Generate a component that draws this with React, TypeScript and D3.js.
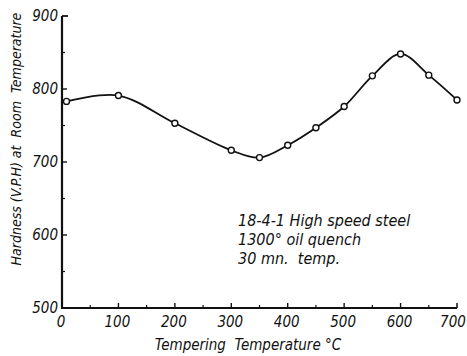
import * as d3 from "d3";

const temps = [8, 100, 200, 300, 350, 400, 450, 500, 550, 600, 650, 700];
const hardness = [783, 791, 753, 716, 706, 723, 747, 776, 818, 848, 819, 785];
const xTickValues = [0, 100, 200, 300, 400, 500, 600, 700];
const yTickValues = [500, 600, 700, 800, 900];
const noteLines = ["18-4-1 High speed steel", "1300° oil quench", "30 mn.  temp."];

const W = 467;
const H = 356;
const FONT = "'Liberation Sans Narrow', 'DejaVu Sans Condensed', sans-serif";

export default function App() {
  const x = d3.scaleLinear().domain([0, 700]).range([62, 457]);
  const y = d3.scaleLinear().domain([500, 900]).range([308, 16]);

  const pts = temps.map((t, i) => [t, hardness[i]] as [number, number]);
  const line = d3
    .line<[number, number]>()
    .x((d) => x(d[0]))
    .y((d) => y(d[1]))
    .curve(d3.curveCatmullRom.alpha(0.5));

  const xMinor = d3.range(50, 700, 100);
  const yMinor = d3.range(550, 900, 100);

  return (
    <svg
      width={W}
      height={H}
      viewBox={`0 0 ${W} ${H}`}
      style={{ position: "absolute", left: 0, top: 0, background: "#fff" }}
    >
      {/* axes */}
      <line x1={x(0)} y1={y(900)} x2={x(0)} y2={y(500) + 1} stroke="#111" strokeWidth={2.2} />
      <line x1={x(0) - 1} y1={y(500)} x2={x(700)} y2={y(500)} stroke="#111" strokeWidth={2} />
      <line x1={x(0)} y1={y(900)} x2={x(0) + 6} y2={y(900)} stroke="#111" strokeWidth={1.8} />
      <line x1={x(700)} y1={y(500)} x2={x(700)} y2={y(500) - 5} stroke="#111" strokeWidth={1.5} />

      {yTickValues.slice(1, -1).map((t) => (
        <line key={t} x1={x(0)} y1={y(t)} x2={x(0) + 5} y2={y(t)} stroke="#111" strokeWidth={1.4} />
      ))}
      {yMinor.map((t) => (
        <line key={t} x1={x(0)} y1={y(t)} x2={x(0) + 3} y2={y(t)} stroke="#111" strokeWidth={1.2} />
      ))}
      {xTickValues.slice(1, -1).map((t) => (
        <line key={t} x1={x(t)} y1={y(500)} x2={x(t)} y2={y(500) - 5} stroke="#111" strokeWidth={1.4} />
      ))}
      {xMinor.map((t) => (
        <line key={t} x1={x(t)} y1={y(500)} x2={x(t)} y2={y(500) - 3} stroke="#111" strokeWidth={1.2} />
      ))}

      {/* tick labels */}
      {yTickValues.map((t) => (
        <text
          key={t}
          x={x(0) - 4}
          y={y(t) + 5}
          textAnchor="end"
          fontFamily={FONT}
          fontStyle="italic"
          fontSize={15}
          fill="#111"
        >
          {t}
        </text>
      ))}
      {xTickValues.map((t) => (
        <text
          key={t}
          x={t === 700 ? x(t) - 4 : x(t) - 1}
          y={y(500) + 19}
          textAnchor="middle"
          fontFamily={FONT}
          fontStyle="italic"
          fontSize={15}
          fill="#111"
        >
          {t}
        </text>
      ))}

      {/* axis titles */}
      <text
        x={248}
        y={350}
        textAnchor="middle"
        fontFamily={FONT}
        fontStyle="italic"
        fontSize={15}
        fill="#111"
        style={{ whiteSpace: "pre" }}
      >
        {"Tempering  Temperature °C"}
      </text>
      <text
        transform={`translate(21,139) rotate(-90)`}
        textAnchor="middle"
        fontFamily={FONT}
        fontStyle="italic"
        fontSize={14}
        fill="#111"
        style={{ whiteSpace: "pre" }}
      >
        {"Hardness (V.P.H) at  Room  Temperature"}
      </text>

      {/* curve + markers */}
      <path d={line(pts) ?? ""} fill="none" stroke="#111" strokeWidth={1.8} />
      {pts.map((d, i) => (
        <circle key={i} cx={x(d[0])} cy={y(d[1])} r={3} fill="#fff" stroke="#111" strokeWidth={1.4} />
      ))}

      {/* note */}
      {noteLines.map((s, i) => (
        <text
          key={i}
          x={238}
          y={226 + i * 19}
          fontFamily={FONT}
          fontStyle="italic"
          fontSize={16}
          fill="#111"
          style={{ whiteSpace: "pre" }}
        >
          {s}
        </text>
      ))}
    </svg>
  );
}
